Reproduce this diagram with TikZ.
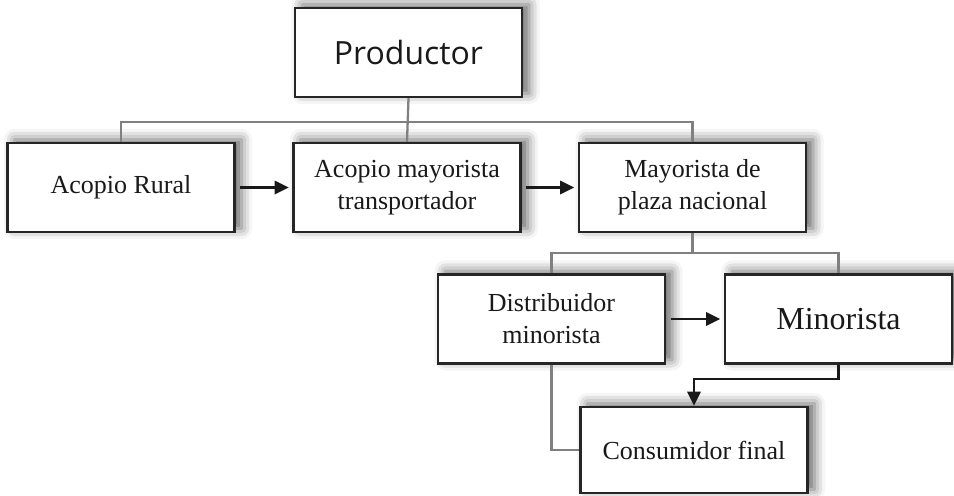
\documentclass[tikz,border=0pt]{standalone}
\usepackage{fontspec}
\setmainfont{Liberation Serif}
\newfontfamily\prodfont{Open Sans}
\usepackage{tikz}
\usetikzlibrary{positioning,calc,arrows.meta,shadows.blur}

\begin{document}
\begin{tikzpicture}[
    x=0.02cm, y=-0.02cm,
    block/.style={rectangle, draw=black!85, line width=1.4pt, fill=white,
        minimum width=4.54cm, minimum height=1.78cm, align=center,
        text=black!90, font=\fontsize{14.8}{18.2}\selectfont,
        blur shadow={shadow xshift=4pt, shadow yshift=2pt, shadow blur radius=6pt, shadow opacity=60}},
    tree/.style={draw=black!50, line width=1.3pt},
    flow/.style={-{Triangle[length=8pt,width=7.5pt]}, line width=1.4pt, black!90}
]
    \useasboundingbox (0,0) rectangle (954,495);

    % Top level
    \node[block, font=\prodfont\fontsize{18.2}{22}\selectfont] (Prod) at (408.5,52.5) {Productor};

    % Second row
    \node[block] (Rural) at (121,187.5) {Acopio Rural};
    \node[block] (Acopio) at (407,187.5) {Acopio mayorista\\transportador};
    \node[block] (Plaza) at (692.5,187.5) {Mayorista de\\plaza nacional};

    % Third row
    \node[block] (Distrib) at (551.5,319) {Distribuidor\\minorista};
    \node[block, font=\fontsize{18.2}{22}\selectfont] (Minor) at (838.5,319) {Minorista};

    % Last box
    \node[block, minimum height=1.72cm] (Consum) at (694,450) {Consumidor final};

    % Tree lines
    \coordinate (bus1) at (0,122);
    \coordinate (bus2) at (0,253);
    \draw[tree] (Rural.north) |- (bus1 -| Prod.south) -| (Plaza.north);
    \draw[tree] (Prod.south) -- (Acopio.north);
    \draw[tree] (Distrib.north) |- (bus2 -| Plaza.south) -| (Minor.north);
    \draw[tree] (Plaza.south) -- (bus2 -| Plaza.south);
    \draw[tree] (Distrib.south) |- (Consum.west);

    % Flow arrows
    \draw[flow, shorten <=2.5pt, shorten >=2pt] (Rural.east) -- (Acopio.west);
    \draw[flow, shorten <=2.5pt, shorten >=2pt] (Acopio.east) -- (Plaza.west);
    \draw[flow, shorten <=2.5pt, shorten >=2pt] (Distrib.east) -- (Minor.west);
    \draw[flow] (Minor.south) -- ++(0,14) -| (Consum.north);

\end{tikzpicture}
\end{document}
